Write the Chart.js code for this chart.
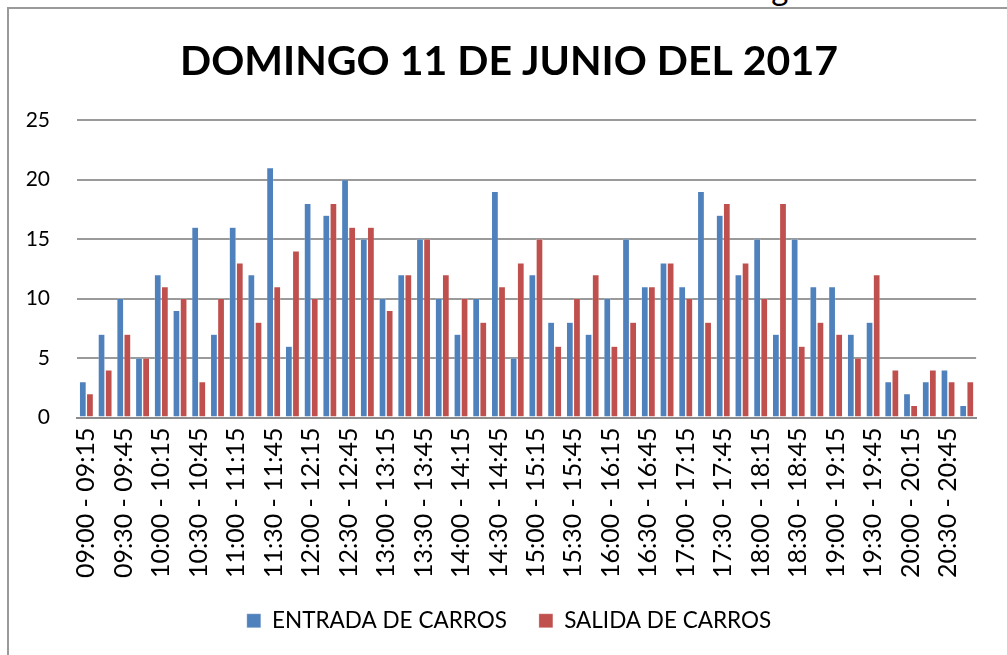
<!DOCTYPE html>
<html>
<head>
<meta charset="utf-8">
<script src="https://cdn.jsdelivr.net/npm/chart.js@4"></script>
<style>
  html, body { margin: 0; padding: 0; background: #fff; overflow: hidden; }
  #wrap { position: relative; width: 1007px; height: 655px; overflow: hidden; }
  #frame { position: absolute; left: 7px; top: 7px; width: 1100px; height: 700px;
           border-left: 2px solid #9a9a9a; border-top: 2px solid #9a9a9a; }
  #cut { position: absolute; left: -10px; width: 1007px; top: -28px; height: 42px; text-align: center;
         font-family: Lato, "Open Sans", sans-serif; font-size: 33px; line-height: 33px; color: #000;
         transform: translateY(-0.6px); }
  #c { position: absolute; left: 0; top: 0; }
</style>
</head>
<body>
<div id="wrap">
  <div id="cut">Gráfica 1: Conteo de vehículos día domingo</div>
  <div id="frame"></div>
  <canvas id="c" width="1007" height="655"></canvas>
</div>
<script>
const title = "DOMINGO 11 DE JUNIO DEL 2017";
const categories = [
  "09:00 - 09:15","09:15 - 09:30","09:30 - 09:45","09:45 - 10:00",
  "10:00 - 10:15","10:15 - 10:30","10:30 - 10:45","10:45 - 11:00",
  "11:00 - 11:15","11:15 - 11:30","11:30 - 11:45","11:45 - 12:00",
  "12:00 - 12:15","12:15 - 12:30","12:30 - 12:45","12:45 - 13:00",
  "13:00 - 13:15","13:15 - 13:30","13:30 - 13:45","13:45 - 14:00",
  "14:00 - 14:15","14:15 - 14:30","14:30 - 14:45","14:45 - 15:00",
  "15:00 - 15:15","15:15 - 15:30","15:30 - 15:45","15:45 - 16:00",
  "16:00 - 16:15","16:15 - 16:30","16:30 - 16:45","16:45 - 17:00",
  "17:00 - 17:15","17:15 - 17:30","17:30 - 17:45","17:45 - 18:00",
  "18:00 - 18:15","18:15 - 18:30","18:30 - 18:45","18:45 - 19:00",
  "19:00 - 19:15","19:15 - 19:30","19:30 - 19:45","19:45 - 20:00",
  "20:00 - 20:15","20:15 - 20:30","20:30 - 20:45","20:45 - 21:00"
];
const entradaLabel = "ENTRADA DE CARROS";
const salidaLabel = "SALIDA DE CARROS";
const entrada = [3,7,10,5,12,9,16,7,16,12,21,6,18,17,20,15,10,12,15,10,7,10,19,5,12,8,8,7,10,15,11,13,11,19,17,12,15,7,15,11,11,7,8,3,2,3,4,1];
const salida  = [2,4,7,5,11,10,3,10,13,8,11,14,10,18,16,16,9,12,15,12,10,8,11,13,15,6,10,12,6,8,11,13,10,8,18,13,10,18,6,8,7,5,12,4,1,4,3,3];
const yTicks = [0,5,10,15,20,25];

const FONT = "Lato, 'Open Sans', sans-serif";

// shift the title and legend boxes so they are centred like the reference
const shiftBoxes = {
  id: 'shiftBoxes',
  afterLayout(chart) {
    if (chart.titleBlock) chart.titleBlock.left += 34;
    if (chart.legend) chart.legend.left += 34;
  }
};

new Chart(document.getElementById('c'), {
  type: 'bar',
  data: {
    labels: categories,
    datasets: [
      { label: entradaLabel, data: entrada, backgroundColor: '#4F81BD', borderColor: 'rgba(255,255,255,0.6)', borderWidth: 0.5 },
      { label: salidaLabel, data: salida, backgroundColor: '#C0504D', borderColor: 'rgba(255,255,255,0.6)', borderWidth: 0.5 }
    ]
  },
  plugins: [shiftBoxes],
  options: {
    responsive: false,
    animation: false,
    devicePixelRatio: 1,
    layout: { padding: { left: 0, right: 23, top: 37, bottom: 13 } },
    datasets: { bar: { categoryPercentage: 0.76, barPercentage: 0.95 } },
    plugins: {
      title: {
        display: true, text: title, color: '#000',
        font: { family: FONT, size: 41, weight: 'bold' },
        padding: { top: 0, bottom: 34 }
      },
      legend: {
        position: 'bottom',
        labels: {
          color: '#000', boxWidth: 14, boxHeight: 14,
          font: { family: FONT, size: 22.5 }, padding: 32
        }
      },
      tooltip: { enabled: false }
    },
    scales: {
      x: {
        afterFit: (s) => { s.height = 160; },
        grid: { display: false, drawTicks: false },
        border: { display: true, color: '#8c8c8c', width: 2 },
        ticks: {
          autoSkip: false, maxRotation: 90, minRotation: 90, padding: 10,
          color: '#000', font: { family: FONT, size: 25 },
          callback: function(v, i) { return i % 2 === 0 ? this.getLabelForValue(v) : ''; }
        }
      },
      y: {
        min: 0, max: 25,
        afterBuildTicks: (s) => { s.ticks = yTicks.map(v => ({ value: v })); },
        afterFit: (s) => { s.width = 77; },
        grid: { color: '#9a9a9a', lineWidth: 2, drawTicks: false },
        border: { display: false },
        ticks: { padding: 27, color: '#000', font: { family: FONT, size: 21 } }
      }
    }
  }
});
</script>
</body>
</html>
